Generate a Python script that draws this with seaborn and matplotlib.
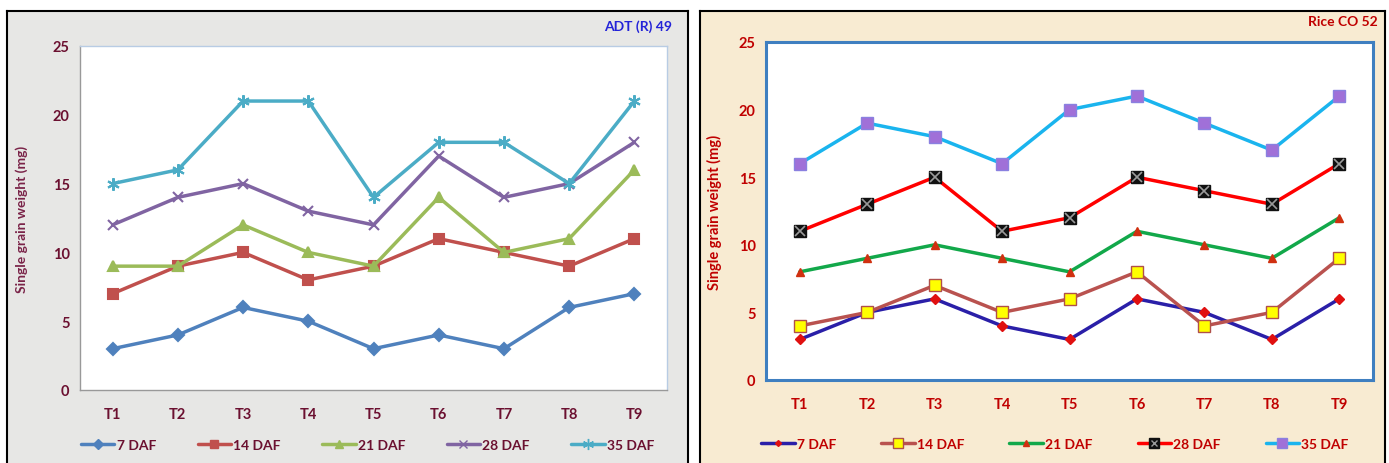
import matplotlib
matplotlib.use("Agg")
import matplotlib.pyplot as plt
from matplotlib.lines import Line2D
from matplotlib.legend_handler import HandlerTuple
import seaborn as sns

sns.set_theme(style="white")
plt.rcParams['font.family'] = ['Lato', 'DejaVu Sans']

treatments = ["T1", "T2", "T3", "T4", "T5", "T6", "T7", "T8", "T9"]
series_names = ["7 DAF", "14 DAF", "21 DAF", "28 DAF", "35 DAF"]

adt_7 = [3, 4, 6, 5, 3, 4, 3, 6, 7]
adt_14 = [7, 9, 10, 8, 9, 11, 10, 9, 11]
adt_21 = [9, 9, 12, 10, 9, 14, 10, 11, 16]
adt_28 = [12, 14, 15, 13, 12, 17, 14, 15, 18]
adt_35 = [15, 16, 21, 21, 14, 18, 18, 15, 21]

co_7 = [3, 5, 6, 4, 3, 6, 5, 3, 6]
co_14 = [4, 5, 7, 5, 6, 8, 4, 5, 9]
co_21 = [8, 9, 10, 9, 8, 11, 10, 9, 12]
co_28 = [11, 13, 15, 11, 12, 15, 14, 13, 16]
co_35 = [16, 19, 18, 16, 20, 21, 19, 17, 21]

yticks = [0, 5, 10, 15, 20, 25]

W, H = 1389, 464
fig = plt.figure(figsize=(W / 100, H / 100), dpi=100)
fig.patch.set_facecolor("white")


def frac(x0, y0, x1, y1):
    return [x0 / W, 1 - y1 / H, (x1 - x0) / W, (y1 - y0) / H]


# panel backgrounds
bg1 = fig.add_axes(frac(7, 12, 688, 470))
bg1.set_facecolor("#e7e7e5")
bg2 = fig.add_axes(frac(700, 12, 1385, 470))
bg2.set_facecolor("#f8ebd2")
for bg in (bg1, bg2):
    bg.set_xticks([]); bg.set_yticks([])
    for s in bg.spines.values():
        s.set_color("black"); s.set_linewidth(1.5)
    bg.set_zorder(0)

# ---------- left panel ----------
ax1 = fig.add_axes(frac(80, 47, 667, 391))
ax1.set_facecolor("white")
left_specs = [
    (adt_7, "#4f81bd", "D", "#4f81bd", "#4f81bd", 6),
    (adt_14, "#c0504d", "s", "#c0504d", "#c0504d", 7),
    (adt_21, "#9bbb59", "^", "#9bbb59", "#9bbb59", 7),
    (adt_28, "#8064a2", "x", "#8064a2", "#8064a2", 7),
    (adt_35, "#4bacc6", (6, 2, 0), "#4bacc6", "#4bacc6", 9),
]
handles1 = []
for (vals, col, mk, mfc, mec, ms), name in zip(left_specs, series_names):
    sns.lineplot(x=treatments, y=vals, ax=ax1, color=col, marker=mk, markersize=ms,
                 markerfacecolor=mfc, markeredgecolor=mec, markeredgewidth=1.5,
                 linewidth=2.5, sort=False)
    handles1.append(Line2D([], [], color=col, marker=mk, markersize=ms - 1,
                           markerfacecolor=mfc, markeredgecolor=mec, linewidth=2.5))

ax1.set_xlim(-0.5, 8.5)
ax1.set_ylim(0, 25)
ax1.set_yticks(yticks)
ax1.set_xlabel("")
ax1.set_ylabel("Single grain weight (mg)", color="#7a2348", fontsize=10, fontweight="bold", labelpad=18)
lab1 = "#6b1030"
ax1.tick_params(axis="both", colors=lab1, labelsize=10.5, length=4, width=1)
for t in ax1.get_xticklabels() + ax1.get_yticklabels():
    t.set_fontweight("bold")
ax1.tick_params(axis="x", length=0, pad=12)
ax1.set_xticks([i + 0.5 for i in range(-1, 9)], minor=True)
ax1.tick_params(axis="x", which="minor", length=5, color="#999999", direction="out")
ax1.tick_params(axis="y", color="#999999", direction="out")
for k, s in ax1.spines.items():
    s.set_color("#b8cce4"); s.set_linewidth(1)
ax1.spines["left"].set_color("#999999")
ax1.spines["bottom"].set_color("#999999")
fig.text(672 / W, 1 - 27 / H, "ADT (R) 49", color="#2323d8", fontsize=10, fontweight="bold",
         ha="right", va="center")
leg1 = ax1.legend(handles1, series_names, loc="center", bbox_to_anchor=(0.49, -0.16),
                  ncol=5, frameon=False, columnspacing=3.0, handlelength=2.4, handletextpad=0.15,
                  prop={"weight": "bold", "size": 10})
for t in leg1.get_texts():
    t.set_color(lab1)

# ---------- right panel ----------
ax2 = fig.add_axes(frac(766, 43, 1373, 381))
ax2.set_facecolor("white")
right_specs = [
    (co_7, "#2a1fa8", "D", "#e01010", "#e01010", 5),
    (co_14, "#b9524f", "s", "#ffff00", "#b0504a", 9),
    (co_21, "#12a84a", "^", "#d03010", "#d03010", 6),
    (co_28, "#ff0000", "s", "#111111", "#111111", 9),
    (co_35, "#1ab4ee", "s", "#a070d8", "#8a80e0", 9),
]
handles2 = []
for (vals, col, mk, mfc, mec, ms), name in zip(right_specs, series_names):
    sns.lineplot(x=treatments, y=vals, ax=ax2, color=col, marker=mk, markersize=ms,
                 markerfacecolor=mfc, markeredgecolor=mec, markeredgewidth=1,
                 linewidth=2.5, sort=False)
    h = Line2D([], [], color=col, marker=mk, markersize=ms - 2,
               markerfacecolor=mfc, markeredgecolor=mec, linewidth=2.5)
    if name == "28 DAF":
        sns.lineplot(x=treatments, y=vals, ax=ax2, color="#888888", marker="x", markersize=7,
                     markeredgecolor="#9a9a9a", markeredgewidth=1.2, linestyle="", sort=False)
        h = (h, Line2D([], [], linestyle="", marker="x", markersize=5,
                       markeredgecolor="#9a9a9a", markeredgewidth=1))
    handles2.append(h)

ax2.set_xlim(-0.5, 8.5)
ax2.set_ylim(0, 25)
ax2.set_yticks(yticks)
ax2.set_xlabel("")
lab2 = "#c00000"
ax2.set_ylabel("Single grain weight (mg)", color=lab2, fontsize=10.5, fontweight="bold", labelpad=12)
ax2.tick_params(axis="both", colors=lab2, labelsize=10.5, length=4, width=1)
for t in ax2.get_xticklabels() + ax2.get_yticklabels():
    t.set_fontweight("bold")
ax2.tick_params(axis="x", length=0, pad=12)
ax2.set_xticks([i + 0.5 for i in range(-1, 9)], minor=True)
ax2.tick_params(axis="x", which="minor", length=5, color="#999999", direction="out")
ax2.tick_params(axis="y", color="#999999", direction="out")
for s in ax2.spines.values():
    s.set_color("#3f7fc0"); s.set_linewidth(2.2)
fig.text(1378 / W, 1 - 22 / H, "Rice CO 52", color=lab2, fontsize=10, fontweight="bold",
         ha="right", va="center")
leg2 = ax2.legend(handles2, series_names, loc="center", bbox_to_anchor=(0.476, -0.19),
                  ncol=5, frameon=False, columnspacing=3.25, handlelength=2.4, handletextpad=0.15,
                  prop={"weight": "bold", "size": 10},
                  handler_map={tuple: HandlerTuple(ndivide=1)})
for t in leg2.get_texts():
    t.set_color(lab2)

fig.savefig("out.png", dpi=100)
